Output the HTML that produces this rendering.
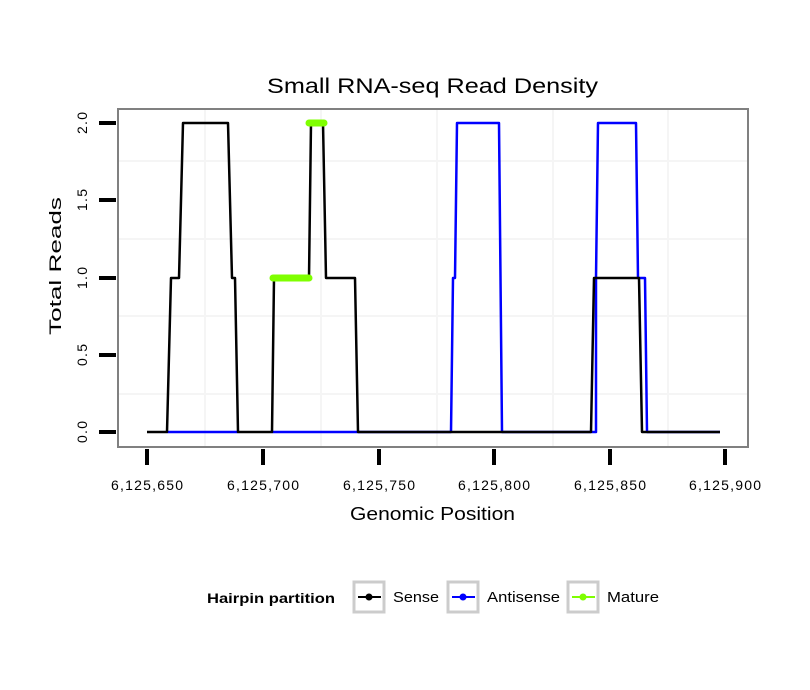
<!DOCTYPE html>
<html><head><meta charset="utf-8"><style>body{margin:0;background:#fff}svg{display:block}</style></head><body>
<svg width="810" height="690" xmlns="http://www.w3.org/2000/svg" font-family="Liberation Sans, sans-serif">
<rect width="810" height="690" fill="#fff"/>
<text x="267" y="93" font-size="21" textLength="331" lengthAdjust="spacingAndGlyphs">Small RNA-seq Read Density</text>
<g stroke="#f5f5f5" stroke-width="2">
<line x1="118" x2="748" y1="161" y2="161"/><line x1="118" x2="748" y1="239" y2="239"/><line x1="118" x2="748" y1="316" y2="316"/><line x1="118" x2="748" y1="394" y2="394"/>
<line x1="205" x2="205" y1="109" y2="446"/><line x1="321" x2="321" y1="109" y2="446"/><line x1="437" x2="437" y1="109" y2="446"/><line x1="553" x2="553" y1="109" y2="446"/><line x1="668" x2="668" y1="109" y2="446"/>
</g>
<rect x="118" y="109" width="630" height="338" fill="none" stroke="#808080" stroke-width="2"/>
<g fill="none" stroke-width="2.5" stroke-linejoin="round">
<polyline stroke="#0000ff" points="167,432 238,432"/>
<polyline stroke="#0000ff" points="272,432 358,432"/>
<polyline stroke="#0000ff" points="358,432 451,432 453,278 455,278 457,123 499,123 502,432 596,432 596,278 598,123 636,123 638,278 645,278 647,432 720,432"/>
<polyline stroke="#000" points="147,432 167,432 171,278 179,278 183,123 228,123 232,278 235,278 238,432 272,432 274,278 309,278 311,123 323,123 326,278 355,278 358,432 591,432 594,278 639,278 642,432 720,432"/>
</g>
<g stroke="#7fff00" stroke-width="7" stroke-linecap="round">
<line x1="273" y1="278" x2="309" y2="278"/><line x1="309" y1="123" x2="324" y2="123"/>
</g>
<g stroke="#000" stroke-width="4">
<line x1="99" x2="116" y1="123" y2="123"/><line x1="99" x2="116" y1="200" y2="200"/><line x1="99" x2="116" y1="278" y2="278"/><line x1="99" x2="116" y1="355" y2="355"/><line x1="99" x2="116" y1="432" y2="432"/>
<line x1="147" x2="147" y1="449" y2="465"/><line x1="263" x2="263" y1="449" y2="465"/><line x1="379" x2="379" y1="449" y2="465"/><line x1="494" x2="494" y1="449" y2="465"/><line x1="610" x2="610" y1="449" y2="465"/><line x1="725" x2="725" y1="449" y2="465"/>
</g>
<g font-size="14" text-anchor="middle">
<text transform="translate(87,123) rotate(-90)" textLength="22">2.0</text><text transform="translate(87,200) rotate(-90)" textLength="22">1.5</text><text transform="translate(87,278) rotate(-90)" textLength="22">1.0</text><text transform="translate(87,355) rotate(-90)" textLength="22">0.5</text><text transform="translate(87,432) rotate(-90)" textLength="22">0.0</text>
</g>
<g font-size="14" text-anchor="middle">
<text x="147" y="490" textLength="72">6,125,650</text><text x="263" y="490" textLength="72">6,125,700</text><text x="379" y="490" textLength="72">6,125,750</text><text x="494" y="490" textLength="72">6,125,800</text><text x="610" y="490" textLength="72">6,125,850</text><text x="725" y="490" textLength="72">6,125,900</text>
</g>
<text x="350" y="520" font-size="18" textLength="165" lengthAdjust="spacingAndGlyphs">Genomic Position</text>
<text transform="translate(61,335) rotate(-90)" font-size="17" textLength="138" lengthAdjust="spacingAndGlyphs">Total Reads</text>
<text x="207" y="603" font-size="14" font-weight="bold" textLength="128" lengthAdjust="spacingAndGlyphs">Hairpin partition</text>
<g fill="none" stroke="#cccccc" stroke-width="3"><rect x="354" y="582" width="30" height="30"/><rect x="448" y="582" width="30" height="30"/><rect x="568" y="582" width="30" height="30"/></g>
<g stroke-width="2"><line x1="358" x2="381" y1="597" y2="597" stroke="#000"/><line x1="452" x2="475" y1="597" y2="597" stroke="#00f"/><line x1="572" x2="595" y1="597" y2="597" stroke="#7fff00"/></g>
<circle cx="369" cy="597" r="3.5" fill="#000"/><circle cx="463" cy="597" r="3.5" fill="#00f"/><circle cx="583" cy="597" r="3.5" fill="#7fff00"/>
<g font-size="15"><text x="393" y="602" textLength="46" lengthAdjust="spacingAndGlyphs">Sense</text><text x="487" y="602" textLength="73" lengthAdjust="spacingAndGlyphs">Antisense</text><text x="607" y="602" textLength="52" lengthAdjust="spacingAndGlyphs">Mature</text></g>
</svg>
</body></html>
